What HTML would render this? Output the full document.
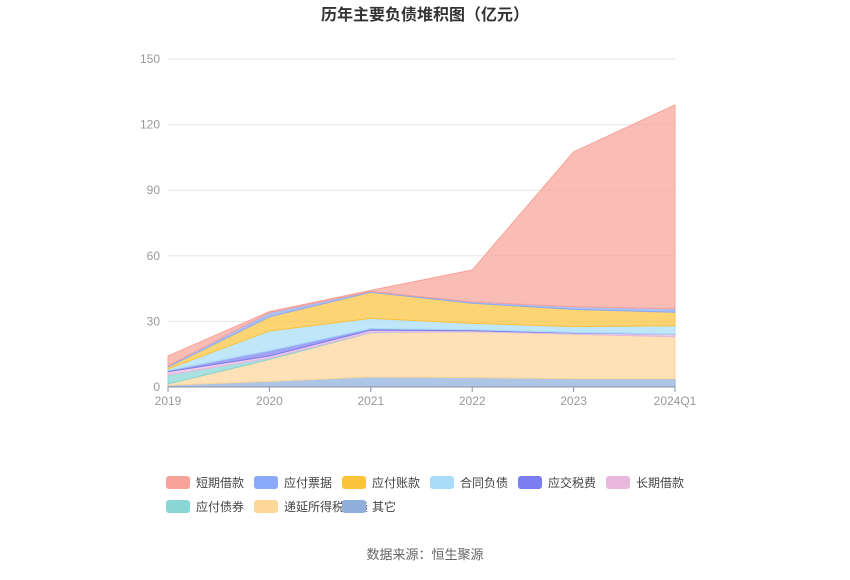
<!DOCTYPE html>
<html><head><meta charset="utf-8"><style>
body{margin:0;background:#fff;font-family:"Liberation Sans","Noto Sans CJK SC",sans-serif}
</style></head><body>
<svg id="c" width="850" height="575" xmlns="http://www.w3.org/2000/svg">
<text x="425" y="20" text-anchor="middle" font-size="16" font-weight="bold" fill="#333" font-family="Liberation Sans,Noto Sans CJK SC,sans-serif">历年主要负债堆积图（亿元）</text>
<g id="grid"></g><g id="areas"></g><g id="axis"></g><g id="legend"></g>
<text x="425" y="559" text-anchor="middle" font-size="13" fill="#666" font-family="Liberation Sans,Noto Sans CJK SC,sans-serif">数据来源：恒生聚源</text>
</svg>
<script>
const categories=["2019","2020","2021","2022","2023","2024Q1"];
const yTicks=[0,30,60,90,120,150];
const seriesNames=["其它","递延所得税负债","应付债券","长期借款","应交税费","合同负债","应付账款","应付票据","短期借款"];
const qita=[0.8,2.6,4.6,4.3,3.8,3.8];
const diyan=[0.6,10,20.2,21,20.4,19.2];
const zhaiquan=[4.1,0.6,0.2,0,0,0];
const changqi=[1.5,1,1,0.4,0.5,1.1];
const yingjiao=[0.5,2.4,0.7,0.5,0.2,0.1];
const hetong=[0.8,9,4.7,2.9,2.7,3.8];
const zhangkuan=[0.8,6.5,11.9,9.2,7.9,6.2];
const piaoju=[0.5,1.9,0.4,0.6,1.2,1.6];
const duanqi=[4.6,0.5,0.5,14.6,70.8,93.2];
const seriesValues=[qita,diyan,zhaiquan,changqi,yingjiao,hetong,zhangkuan,piaoju,duanqi];
const colors=["#8fb0dd","#fdd69a","#88d6d6","#e9b8dc","#7b7ef0","#a8dcf8","#fcc43d","#8aa9f8","#f8a39a"];
const slugs=["other","deferred-tax","bonds-payable","long-term-loan","tax-payable","contract-liab","accounts-payable","notes-payable","short-term-loan"];
const NS="http://www.w3.org/2000/svg";
const x0=168,x1=675,y0=387,y1=59,ymax=150;
const xs=i=>x0+(x1-x0)*i/(categories.length-1);
const ys=v=>y0-(y0-y1)*v/ymax;
function mk(t,a,p){const e=document.createElementNS(NS,t);for(const k in a)e.setAttribute(k,a[k]);p.appendChild(e);return e;}
const grid=document.getElementById('grid');
yTicks.forEach(v=>{
 const l=mk('line',{x1:x0,x2:x1,y1:ys(v),y2:ys(v),stroke:'#e6e6e6'},grid);
 
 
 const t=mk('text',{x:160,y:ys(v)+4,'text-anchor':'end','font-size':12,fill:'#999'},grid);
 t.textContent=v;
 
 
});
const areas=document.getElementById('areas');
let cum=categories.map(()=>0);
seriesValues.forEach((arr,s)=>{
 const lo=cum.slice();const hi=cum.map((c,i)=>c+arr[i]);
 let d='';hi.forEach((v,i)=>d+=(i?'L':'M')+xs(i)+','+ys(v));
 for(let i=lo.length-1;i>=0;i--)d+='L'+xs(i)+','+ys(lo[i]);
 const p=mk('path',{d:d+'Z',fill:colors[s],'fill-opacity':0.72,stroke:colors[s],'stroke-width':1},areas);
 
 
 cum=hi;
});
const axis=document.getElementById('axis');
const al=mk('line',{x1:x0,x2:x1,y1:y0,y2:y0,stroke:'#8a93a6'},axis);


categories.forEach((c,i)=>{
 mk('line',{x1:xs(i),x2:xs(i),y1:y0,y2:y0+5,stroke:'#8a93a6'},axis);
 const t=mk('text',{x:xs(i),y:405,'text-anchor':'middle','font-size':12,fill:'#999'},axis);
 t.textContent=c;
 
 
});
const legend=document.getElementById('legend');
const order=[8,7,6,5,4,3,2,1,0];
order.forEach((s,k)=>{
 const row=k<6?0:1,col=k<6?k:k-6;
 const gx=166+col*88,gy=476+row*24;
 const g=mk('g',{},legend);
 
 
 mk('rect',{x:gx,y:gy,width:24,height:13,rx:3,fill:colors[s]},g);
 const t=mk('text',{x:gx+30,y:gy+11,'font-size':12,fill:'#444'},g);
 t.textContent=seriesNames[s];
});
</script>
</body></html>
